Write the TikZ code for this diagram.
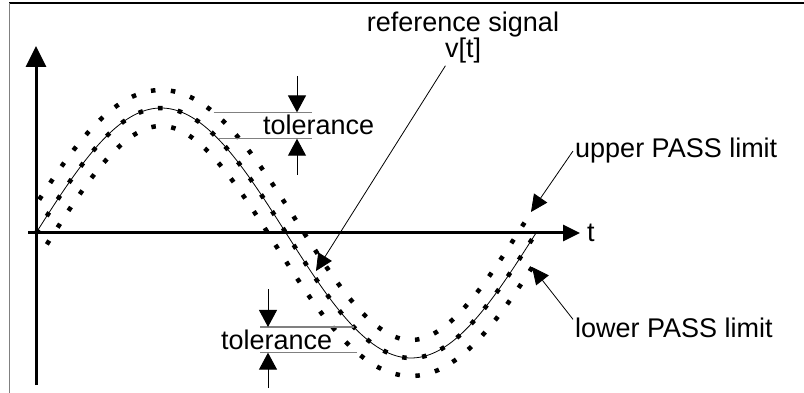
\documentclass[tikz,border=0pt]{standalone}
\usepackage{fontspec}
\setmainfont{Liberation Sans}
\usetikzlibrary{arrows.meta,positioning}

\begin{document}
\begin{tikzpicture}[
  x=1pt, y=-1pt,
  font=\fontsize{27}{29}\selectfont,
  declare function={
    vv(\x)=233-125*sin(0.72*(\x-36));
    ss(\x)=-1.5708*cos(0.72*(\x-36));
    dd(\x)=sqrt(196*ss(\x)^2+324);
    xu(\x)=\x+196*ss(\x)/dd(\x);
    yu(\x)=vv(\x)-324/dd(\x);
    xl(\x)=\x-196*ss(\x)/dd(\x);
    yl(\x)=vv(\x)+324/dd(\x);
  },
  axis/.style={line width=3pt},
  sigline/.style={line width=0.8pt},
  dotcurve/.style={line width=4.5pt, dash pattern=on 4.5pt off 15.5pt},
  tolline/.style={draw=gray, line width=1.2pt},
  tolarrow/.style={line width=1pt, -{Triangle[length=17pt,width=18pt]}},
  callout/.style={line width=0.8pt, -{Triangle[length=17pt,width=16pt]}},
  lbl/.style={inner sep=2pt}
]
\useasboundingbox (0,0) rectangle (804,393);

% frame
\draw[line width=2pt] (9,3) -- (804,3);
\draw[gray, line width=1.5pt] (9.5,3) -- (9.5,393);

% axes
\coordinate (ybot) at (36,385);
\coordinate (ytop) at (36,46);
\coordinate (xleft) at (28,233);
\coordinate (xright) at (580,233);
\draw[axis, -{Triangle[length=21pt,width=20pt]}] (ybot) -- (ytop);
\draw[axis, -{Triangle[length=17pt,width=16pt]}] (xleft) -- (xright);
\node[lbl, anchor=base west] (tlab) at (585,242) {t};

% reference signal and PASS limits
\draw[sigline] plot[domain=36:536, samples=201, smooth] (\x,{vv(\x)});
\draw[dotcurve] plot[domain=36:536, samples=201, smooth] (\x,{vv(\x)});
\draw[dotcurve] plot[domain=50:536, samples=201, smooth] ({xu(\x)},{yu(\x)});
\draw[dotcurve] plot[domain=36:524, samples=201, smooth] ({xl(\x)},{yl(\x)});

% upper tolerance
\coordinate (tolUa) at ({xu(206)},{yu(206)});
\coordinate (tolUb) at (218,{vv(218)});
\coordinate (tolUend) at (312,0);
\coordinate (tolUdn) at (297,76);
\coordinate (tolUup) at (297,175);
\draw[tolline] (tolUa) -- (tolUa -| tolUend);
\draw[tolline] (tolUb) -- (tolUb -| tolUend);
\draw[tolarrow] (tolUdn) -- (tolUdn |- tolUa);
\draw[tolarrow] (tolUup) -- (tolUup |- tolUb);
\node[lbl, anchor=base west] (tolU) at (261,135) {tolerance};

% lower tolerance
\coordinate (tolLa) at (353.7,{vv(353.7)});
\coordinate (tolLb) at ({xl(365)},{yl(365)});
\coordinate (tolLend) at (260,0);
\coordinate (tolLdn) at (268,289);
\coordinate (tolLup) at (268,388);
\draw[tolline] (tolLa) -- (tolLa -| tolLend);
\draw[tolline] (tolLb) -- (tolLb -| tolLend);
\draw[tolarrow] (tolLdn) -- (tolLdn |- tolLa);
\draw[tolarrow] (tolLup) -- (tolLup |- tolLb);
\node[lbl, anchor=base west] (tolL) at (219,349) {tolerance};

% labels
\node[lbl, align=center, anchor=north, font=\fontsize{27}{23}\selectfont]
  (refsig) at (463,10) {reference signal\\v[t]};
\node[lbl, anchor=base west] (upper) at (573,158) {upper PASS limit};
\node[lbl, anchor=base west] (lower) at (573,337) {lower PASS limit};

\coordinate (tipref) at (316,271);
\coordinate (tipup) at (531,212);
\coordinate (tiplow) at (532,267);
\draw[callout] (refsig) -- (tipref);
\draw[callout] (upper.west) -- (tipup);
\draw[callout] ([yshift=8pt]lower.west) -- (tiplow);
\end{tikzpicture}
\end{document}
